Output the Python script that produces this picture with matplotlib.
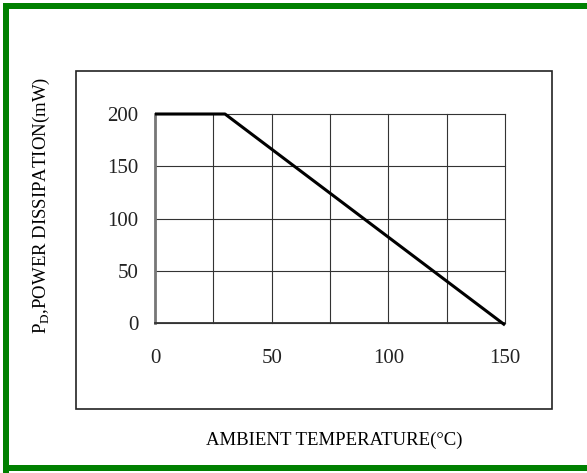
import matplotlib.pyplot as plt
from matplotlib.lines import Line2D
from matplotlib.patches import Rectangle

# derating curve
temp = [0, 30, 150]
power = [200, 200, -2]
xticks = [0, 50, 100, 150]
yticks = [0, 50, 100, 150, 200]
xgrid = [0, 25, 50, 75, 100, 125, 150]

plt.rcParams['font.family'] = ['Liberation Serif', 'DejaVu Serif']

W, H = 587, 473
fig = plt.figure(figsize=(W / 100, H / 100), dpi=100)

# green frame (left, top, bottom)
green = '#008000'
lw_g = 6 * 72 / 100
fig.add_artist(Line2D([6 / W, 6 / W], [0, 1 - 3 / H], color=green, lw=lw_g, solid_capstyle='butt'))
fig.add_artist(Line2D([3 / W, 1], [1 - 6 / H, 1 - 6 / H], color=green, lw=lw_g, solid_capstyle='butt'))
fig.add_artist(Line2D([3 / W, 1], [5 / H, 5 / H], color=green, lw=lw_g, solid_capstyle='butt'))

# outer black box
fig.add_artist(Rectangle((76 / W, 1 - 409 / H), (552 - 76) / W, (409 - 71) / H,
                         fill=False, ec='#222222', lw=1.2))

ax = fig.add_axes([155 / W, 1 - 323 / H, 350 / W, 209 / H])
ax.set_xlim(0, 150)
ax.set_ylim(0, 200)
for s in ax.spines.values():
    s.set_visible(False)

for x in xgrid:
    ax.axvline(x, color='#333333', lw=0.8, clip_on=False)
for y in yticks:
    ax.axhline(y, color='#333333', lw=0.8, clip_on=False)
ax.axvline(0, color='#777777', lw=2, clip_on=False)
ax.axhline(0, color='#333333', lw=1.3, clip_on=False)

ax.plot(temp, power, color='black', lw=2.2, clip_on=False, solid_capstyle='butt')

ax.set_xticks(xticks)
ax.set_yticks(yticks)
ax.tick_params(length=0, labelsize=15, labelcolor='#222222')
ax.tick_params(axis='x', pad=19)
ax.tick_params(axis='y', pad=12)

fig.text(334 / W, 1 - 440 / H, 'AMBIENT TEMPERATURE(°C)', ha='center', va='center', fontsize=13.5)
fig.text(41 / W, 1 - 205 / H, r'P$_{\mathregular{D}}$,POWER DISSIPATION(mW)', ha='center', va='center',
         rotation=90, fontsize=13.5)

fig.savefig('out.png', dpi=100)
